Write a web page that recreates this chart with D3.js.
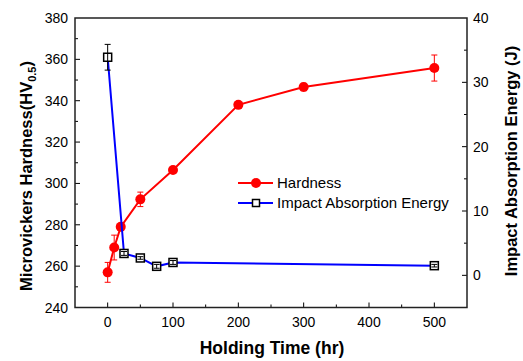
<!DOCTYPE html>
<html>
<head>
<meta charset="utf-8">
<script src="https://cdn.jsdelivr.net/npm/d3@7"></script>
<style>
  body { margin: 0; background: #fff; }
  text { font-family: "Liberation Sans", Arial, sans-serif; }
</style>
</head>
<body>
<script>
// data
var hardTime = [0, 10, 20, 50, 100, 200, 300, 500];
var hardness = [257, 269, 279, 292.3, 306.5, 338, 346.6, 355.8];
var hardErr  = [4.8, 6, 1, 3.5, 1, 1, 1.8, 6.3];

var energyTime = [0, 25, 50, 75, 100, 500];
var energy     = [33.9, 3.4, 2.7, 1.4, 2.0, 1.5];
var energyErr  = [2.0, 0.3, 0.2, 0.3, 0.3, 0.2];

var xTicks = [0, 100, 200, 300, 400, 500];
var leftTicks = [240, 260, 280, 300, 320, 340, 360, 380];
var rightTicks = [0, 10, 20, 30, 40];

var pL = 75, pR = 467, pT = 18, pB = 307.5;

var svg = d3.select("body").append("svg")
            .attr("width", 523)
            .attr("height", 361);

var x = d3.scaleLinear().domain([-50, 550]).range([pL, pR]);
var yL = d3.scaleLinear().domain([240, 380]).range([pB, pT]);
var yR = d3.scaleLinear().domain([-5, 40]).range([pB, pT]);

// ticks (inward, major + minor)
var g = svg.append("g").attr("stroke", "#000").attr("stroke-width", 1);
d3.range(-50, 551, 50).forEach(function (v) {
  if (v <= -50 || v >= 550) return;
  var len = (v % 100 === 0) ? 5 : 3;
  g.append("line").attr("x1", x(v)).attr("x2", x(v)).attr("y1", pB).attr("y2", pB - len);
});
d3.range(240, 381, 10).forEach(function (v) {
  if (v === 240 || v === 380) return;
  var len = (v % 20 === 0) ? 5 : 3;
  g.append("line").attr("x1", pL).attr("x2", pL + len).attr("y1", yL(v)).attr("y2", yL(v));
});
d3.range(-5, 41, 5).forEach(function (v) {
  if (v === -5 || v === 40) return;
  var len = (v % 10 === 0) ? 5 : 3;
  g.append("line").attr("x1", pR).attr("x2", pR - len).attr("y1", yR(v)).attr("y2", yR(v));
});

// frame
svg.append("rect")
   .attr("x", pL).attr("y", pT)
   .attr("width", pR - pL).attr("height", pB - pT)
   .attr("fill", "none").attr("stroke", "#222").attr("stroke-width", 1.5);

// tick labels
svg.selectAll(".xl").data(xTicks).enter().append("text")
   .attr("x", function (d) { return x(d); })
   .attr("y", 327)
   .attr("text-anchor", "middle")
   .attr("font-size", 14)
   .text(function (d) { return d; });

svg.selectAll(".yl").data(leftTicks).enter().append("text")
   .attr("x", 68)
   .attr("y", function (d) { return yL(d) + 5; })
   .attr("text-anchor", "end")
   .attr("font-size", 14)
   .text(function (d) { return d; });

svg.selectAll(".yr").data(rightTicks).enter().append("text")
   .attr("x", 473)
   .attr("y", function (d) { return yR(d) + 5; })
   .attr("font-size", 14)
   .text(function (d) { return d; });

// axis titles
svg.append("text")
   .attr("x", (pL + pR) / 2 + 1).attr("y", 354)
   .attr("text-anchor", "middle")
   .attr("font-size", 17.5).attr("font-weight", "bold")
   .text("Holding Time (hr)");

var lt = svg.append("text")
   .attr("transform", "translate(32,176) rotate(-90)")
   .attr("text-anchor", "middle")
   .attr("font-size", 16.5).attr("font-weight", "bold");
lt.append("tspan").text("Microvickers Hardness(HV");
lt.append("tspan").attr("font-size", 11).attr("dy", 4).text("0.5");
lt.append("tspan").attr("dy", -4).text(")");

svg.append("text")
   .attr("transform", "translate(517,161) rotate(-90)")
   .attr("text-anchor", "middle")
   .attr("font-size", 16.5).attr("font-weight", "bold")
   .text("Impact Absorption Energy (J)");

// hardness series
var lineH = d3.line()
   .x(function (d, i) { return x(hardTime[i]); })
   .y(function (d) { return yL(d); });

svg.append("path").datum(hardness)
   .attr("d", lineH)
   .attr("fill", "none").attr("stroke", "#ff0000").attr("stroke-width", 2);

var eh = svg.append("g").attr("stroke", "#ff0000").attr("stroke-width", 1);
hardness.forEach(function (d, i) {
  var cx = x(hardTime[i]);
  var y1 = yL(d + hardErr[i]), y2 = yL(d - hardErr[i]);
  eh.append("line").attr("x1", cx).attr("x2", cx).attr("y1", y1).attr("y2", y2);
  eh.append("line").attr("x1", cx - 3).attr("x2", cx + 3).attr("y1", y1).attr("y2", y1);
  eh.append("line").attr("x1", cx - 3).attr("x2", cx + 3).attr("y1", y2).attr("y2", y2);
});

svg.selectAll(".hc").data(hardness).enter().append("circle")
   .attr("cx", function (d, i) { return x(hardTime[i]); })
   .attr("cy", function (d) { return yL(d); })
   .attr("r", 5)
   .attr("fill", "#ff0000");

// energy series
var lineE = d3.line()
   .x(function (d, i) { return x(energyTime[i]); })
   .y(function (d) { return yR(d); });

svg.append("path").datum(energy)
   .attr("d", lineE)
   .attr("fill", "none").attr("stroke", "#0000ff").attr("stroke-width", 2);

svg.selectAll(".es").data(energy).enter().append("rect")
   .attr("x", function (d, i) { return x(energyTime[i]) - 4; })
   .attr("y", function (d) { return yR(d) - 4; })
   .attr("width", 8).attr("height", 8)
   .attr("fill", "#fff").attr("stroke", "#000").attr("stroke-width", 1.5);

var ee = svg.append("g").attr("stroke", "#000").attr("stroke-width", 1);
energy.forEach(function (d, i) {
  var cx = x(energyTime[i]);
  var y1 = yR(d + energyErr[i]), y2 = yR(d - energyErr[i]);
  ee.append("line").attr("x1", cx).attr("x2", cx).attr("y1", y1).attr("y2", y2);
  ee.append("line").attr("x1", cx - 3).attr("x2", cx + 3).attr("y1", y1).attr("y2", y1);
  ee.append("line").attr("x1", cx - 3).attr("x2", cx + 3).attr("y1", y2).attr("y2", y2);
});

// legend
var lg = svg.append("g");
lg.append("line").attr("x1", 238).attr("x2", 273).attr("y1", 183).attr("y2", 183)
  .attr("stroke", "#ff0000").attr("stroke-width", 2);
lg.append("circle").attr("cx", 256).attr("cy", 183).attr("r", 5).attr("fill", "#ff0000");
lg.append("text").attr("x", 277).attr("y", 188).attr("font-size", 15).text("Hardness");

lg.append("line").attr("x1", 238).attr("x2", 273).attr("y1", 203).attr("y2", 203)
  .attr("stroke", "#0000ff").attr("stroke-width", 2);
lg.append("rect").attr("x", 252.5).attr("y", 199.5).attr("width", 7).attr("height", 7)
  .attr("fill", "#fff").attr("stroke", "#000").attr("stroke-width", 1.5);
lg.append("text").attr("x", 277).attr("y", 208).attr("font-size", 15).text("Impact Absorption Energy");
</script>
</body>
</html>
